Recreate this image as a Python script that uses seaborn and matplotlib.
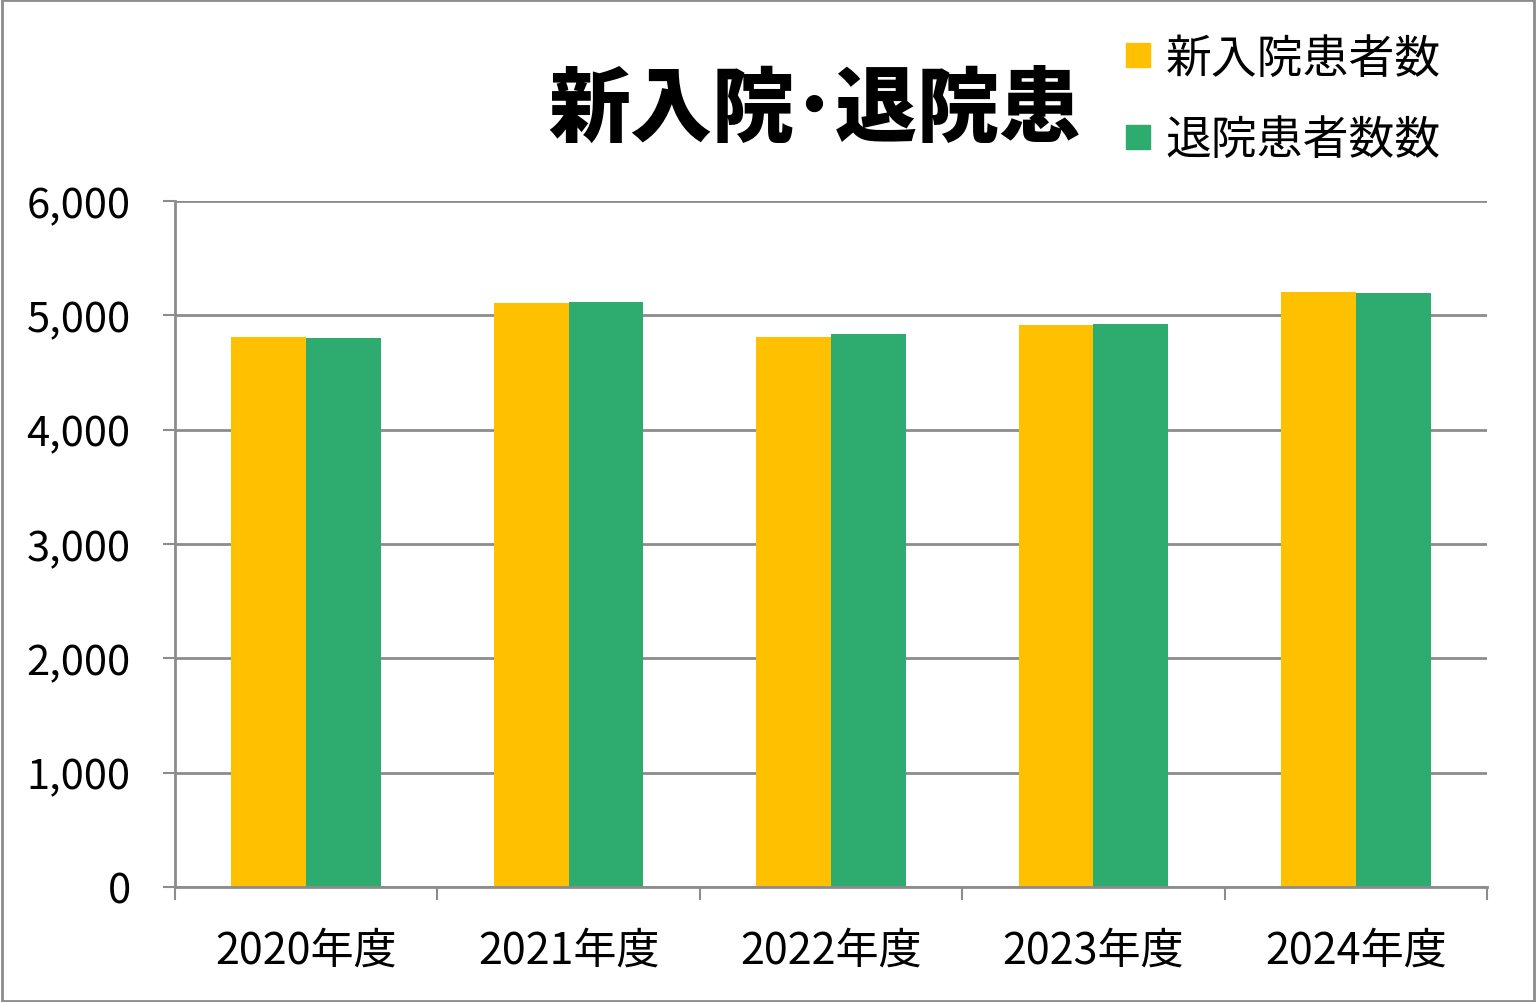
import pandas as pd
import matplotlib.pyplot as plt
import seaborn as sns
from matplotlib.lines import Line2D
from matplotlib.patches import Rectangle

# Data
years = ["2020年度", "2021年度", "2022年度", "2023年度", "2024年度"]
admissions = [4810, 5108, 4810, 4916, 5204]
discharges = [4802, 5117, 4836, 4924, 5195]
series_names = ["新入院患者数", "退院患者数数"]
colors = ["#FFC000", "#2EAB6F"]
yticks = [0, 1000, 2000, 3000, 4000, 5000, 6000]

df = pd.DataFrame({
    "年度": years * 2,
    "人数": admissions + discharges,
    "区分": [series_names[0]] * len(years) + [series_names[1]] * len(years),
})

# Style
sns.set_style("white")
plt.rcParams["font.family"] = ["Noto Sans CJK JP", "DejaVu Sans"]
plt.rcParams["text.color"] = "black"
plt.rcParams["xtick.labelcolor"] = "black"
plt.rcParams["ytick.labelcolor"] = "black"

fig = plt.figure(figsize=(15.36, 10.03), dpi=100)
ax = fig.add_axes([175 / 1536, 1 - 888 / 1003, 1312 / 1536, 686 / 1003])

sns.barplot(data=df, x="年度", y="人数", hue="区分", palette=colors,
            width=0.57, saturation=1, linewidth=0, ax=ax, legend=False)

# Axes
ax.set_ylim(0, 6000)
ax.set_xlim(-0.5, len(years) - 0.5)
ax.set_yticks(yticks)
ax.set_yticklabels([f"{v:,}" for v in yticks], fontsize=30, color="black")
ax.set_xticks(range(len(years)))
ax.set_xticklabels(years, fontsize=31, color="black")
ax.set_xlabel("")
ax.set_ylabel("")
ax.set_xticks([i - 0.5 for i in range(len(years) + 1)], minor=True)
ax.tick_params(axis="x", which="major", bottom=True, length=0, pad=30)
ax.tick_params(axis="x", which="minor", bottom=True, length=9, width=1.5,
               color="#8c8c8c")
ax.tick_params(axis="y", left=True, length=9, width=1.5, color="#8c8c8c",
               pad=23)

ax.grid(axis="y", color="#8c8c8c", linewidth=2)
ax.set_axisbelow(True)
for side in ["top", "right"]:
    ax.spines[side].set_visible(False)
for side in ["left", "bottom"]:
    ax.spines[side].set_color("#8c8c8c")
    ax.spines[side].set_linewidth(2)

# Title
fig.text(815 / 1536, 1 - 110 / 1003, "新入院･退院患", fontsize=59,
         fontweight="heavy", color="black", ha="center", va="center")

# Legend
handles = [Line2D([], [], marker="s", linestyle="", markersize=17,
                  markerfacecolor=c, markeredgecolor=c) for c in colors]
fig.legend(handles, series_names, loc="upper left",
           bbox_to_anchor=(1124 / 1536, 1 - 35 / 1003), frameon=False,
           fontsize=33, handletextpad=0.3, labelspacing=0.72,
           handlelength=0.6, borderpad=0, borderaxespad=0,
           labelcolor="black")

# Border
fig.patches.append(Rectangle((0.001, 0.001), 0.998, 0.998, transform=fig.transFigure,
                             fill=False, edgecolor="#8c8c8c", linewidth=2))

fig.savefig("out.png", dpi=100)
